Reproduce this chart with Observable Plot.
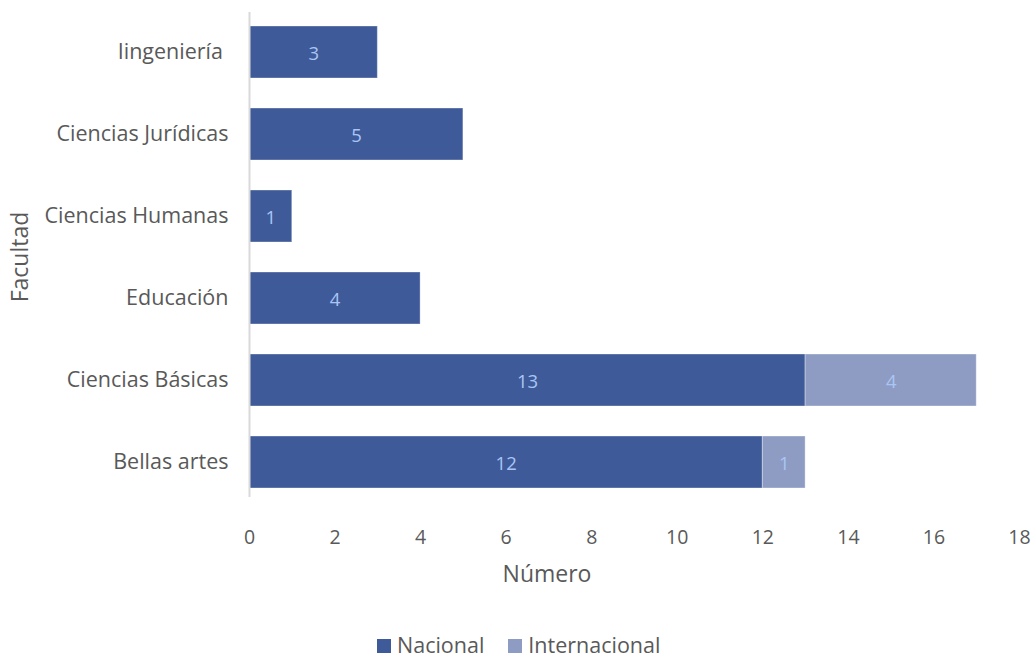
<!DOCTYPE html>
<html>
<head>
<meta charset="utf-8">
<script src="https://cdn.jsdelivr.net/npm/d3@7"></script>
<script src="https://cdn.jsdelivr.net/npm/@observablehq/plot@0.6"></script>
<style>
  body { margin: 0; background: #fff; font-family: "Open Sans", sans-serif; }
  #legend { display: flex; justify-content: flex-start; gap: 24px; padding-left: 377px; margin-top: 20px; font-size: 21.5px; color: #595959; }
  #legend span.sw { display: inline-block; width: 14px; height: 14px; margin-right: 6px; vertical-align: 0px; }
</style>
</head>
<body>
<div id="chart"></div>
<div id="legend"></div>
<script>
const facultades = ["Iingeniería\u00A0", "Ciencias Jurídicas", "Ciencias Humanas", "Educación", "Ciencias Básicas", "Bellas artes"];
const tipos = ["Nacional", "Internacional"];
const nacional = [3, 5, 1, 4, 13, 12];
const internacional = [0, 0, 0, 0, 4, 1];
const colores = ["#3F5A98", "#8E9CC3"];
const xTicks = [0, 2, 4, 6, 8, 10, 12, 14, 16, 18];
const xLabel = "Número";
const yLabel = "Facultad";

const rows = [];
facultades.forEach((f, i) => {
  if (nacional[i] > 0) rows.push({facultad: f, tipo: tipos[0], value: nacional[i]});
  if (internacional[i] > 0) rows.push({facultad: f, tipo: tipos[1], value: internacional[i]});
});

const chart = Plot.plot({
  width: 1033,
  height: 610,
  marginLeft: 249,
  marginRight: 14,
  marginTop: 11,
  marginBottom: 107,
  style: {fontFamily: "Open Sans, sans-serif", background: "#fff"},
  x: {domain: [0, 18], ticks: xTicks},
  y: {domain: facultades, paddingInner: 0.37, paddingOuter: 0.185},
  color: {domain: tipos, range: colores},
  marks: [
    Plot.barX(rows, Plot.stackX({y: "facultad", x: "value", fill: "tipo", order: tipos, stroke: "#ffffff", strokeOpacity: 0.35, strokeWidth: 1})),
    Plot.text(rows, Plot.stackX({y: "facultad", x: "value", z: "tipo", order: tipos, text: d => String(d.value), fill: "#A9C5F5", fontSize: 18.5, dy: 2})),
    Plot.ruleX([0], {stroke: "#d9d9d9", strokeWidth: 2, insetTop: 1, insetBottom: 6}),
    Plot.axisX({ticks: xTicks, tickSize: 0, tickPadding: 27, fontSize: 19.5, color: "#595959", label: null}),
    Plot.axisY({tickSize: 0, tickPadding: 21, fontSize: 21.5, color: "#595959", label: null})
  ]
});
const svg = d3.select(chart);
svg.append("text")
  .attr("x", 547).attr("y", 576)
  .attr("text-anchor", "middle").attr("dominant-baseline", "middle")
  .attr("font-size", 23).attr("fill", "#595959")
  .text(xLabel);
svg.append("text")
  .attr("transform", "translate(22,257) rotate(-90)")
  .attr("text-anchor", "middle").attr("dominant-baseline", "middle")
  .attr("font-size", 23).attr("fill", "#595959")
  .text(yLabel);
document.getElementById("chart").appendChild(chart);

const legend = document.getElementById("legend");
tipos.forEach((t, i) => {
  const item = document.createElement("div");
  item.innerHTML = `<span class="sw" style="background:${colores[i]}"></span>${t}`;
  legend.appendChild(item);
});
</script>
</body>
</html>
